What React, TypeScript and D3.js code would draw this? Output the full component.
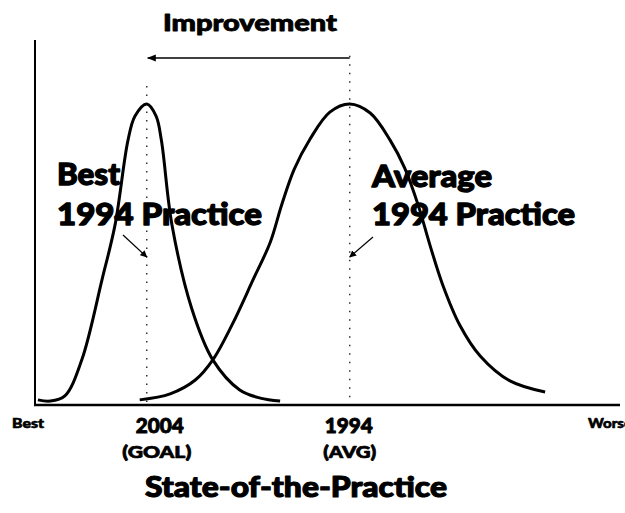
import React from "react";
import * as d3 from "d3";

// Horizontal scale: 0 = "Best" end, 100 = "Worse" end. Vertical: relative frequency (peak ≈ 1).
const bestCurveX = [0.5, 2.6, 5.1, 8.0, 11.5, 13.7, 15.9, 17.1, 19.1, 20.7, 21.6, 23.4, 26.8, 30.4, 35.0, 38.5, 41.9];
const bestCurveY = [0.017, 0.013, 0.03, 0.15, 0.42, 0.6, 0.88, 0.96, 1.0, 0.96, 0.88, 0.6, 0.32, 0.15, 0.05, 0.023, 0.013];

const avgCurveX = [17.9, 23.1, 27.4, 30.4, 33.7, 37.3, 40.2, 42.2, 44.3, 47.0, 50.4, 53.8, 57.3, 60.7, 63.2, 65.5, 67.5, 69.7, 72.6, 76.1, 81.2, 87.2];
const avgCurveY = [0.017, 0.037, 0.083, 0.15, 0.267, 0.417, 0.54, 0.667, 0.783, 0.883, 0.973, 1.0, 0.97, 0.88, 0.787, 0.664, 0.532, 0.399, 0.266, 0.163, 0.08, 0.043];

const markerPositions = [19.1, 53.8]; // 2004 goal, 1994 average
const markerTopValues = [1.06, 1.16];
const tickLabels = ["2004", "1994"];
const tickSubLabels = ["(GOAL)", "(AVG)"];
const axisEndLabels = ["Best", "Worse"];

const W = 625;
const H = 513;
const FONT = "Lato, 'Open Sans', 'DejaVu Sans', sans-serif";

export default function App() {
  const x = d3.scaleLinear().domain([0, 100]).range([35, 620]);
  const y = d3.scaleLinear().domain([0, 1]).range([405, 104]);

  const line = d3
    .line<[number, number]>()
    .x((d) => x(d[0]))
    .y((d) => y(d[1]))
    .curve(d3.curveCatmullRom.alpha(0.5));

  const bestPts = bestCurveX.map((v, i) => [v, bestCurveY[i]] as [number, number]);
  const avgPts = avgCurveX.map((v, i) => [v, avgCurveY[i]] as [number, number]);

  const gx = x(markerPositions[0]);
  const ax = x(markerPositions[1]);

  const heavy = (sw: number) => ({ stroke: "#000", strokeWidth: sw, strokeLinejoin: "round" as const });

  return (
    <svg
      width={W}
      height={H}
      style={{ position: "absolute", left: 0, top: 0, background: "#fff" }}
      fontFamily={FONT}
    >
      <defs>
        <marker id="ah" viewBox="0 0 10 10" refX="9" refY="5" markerWidth="7" markerHeight="7" orient="auto-start-reverse" markerUnits="userSpaceOnUse">
          <path d="M0,0 L10,5 L0,10 z" fill="#000" />
        </marker>
        <marker id="ahs" viewBox="0 0 10 10" refX="9" refY="5" markerWidth="9" markerHeight="9" orient="auto" markerUnits="userSpaceOnUse">
          <path d="M0,1 L10,5 L0,9 z" fill="#000" />
        </marker>
      </defs>
      <rect width={W} height={H} fill="#fff" />

      {/* Improvement title and arrow */}
      <text x={250} y={31} fontSize={22} fontWeight={900} textAnchor="middle" textLength={174} lengthAdjust="spacingAndGlyphs" {...heavy(0.8)}>
        Improvement
      </text>
      <line x1={ax} y1={58} x2={gx + 1} y2={58} stroke="#000" strokeWidth={1.5} markerEnd="url(#ahs)" />

      {/* Dotted marker lines */}
      {markerPositions.map((m, i) => (
        <line
          key={i}
          x1={x(m)}
          x2={x(m)}
          y1={y(markerTopValues[i])}
          y2={y(0)}
          stroke="#333"
          strokeWidth={1.5}
          strokeDasharray="1.5,7"
        />
      ))}

      {/* Axes */}
      <line x1={x(0)} x2={x(0)} y1={40} y2={y(0)} stroke="#000" strokeWidth={2} />
      <line x1={x(0) - 1} x2={x(100)} y1={y(0)} y2={y(0)} stroke="#000" strokeWidth={2.5} />

      {/* Curves */}
      <path d={line(bestPts) || ""} fill="none" stroke="#000" strokeWidth={3} />
      <path d={line(avgPts) || ""} fill="none" stroke="#000" strokeWidth={3} />

      {/* Labels in plot */}
      <g fontSize={31} fontWeight={900} {...heavy(1.3)}>
        <text x={57} y={185} textLength={63} lengthAdjust="spacingAndGlyphs">Best</text>
        <text x={57} y={225} textLength={205} lengthAdjust="spacingAndGlyphs">1994 Practice</text>
        <text x={372} y={187} textLength={120} lengthAdjust="spacingAndGlyphs">Average</text>
        <text x={372} y={225} textLength={203} lengthAdjust="spacingAndGlyphs">1994 Practice</text>
      </g>

      {/* Small pointer arrows */}
      <line x1={123} y1={235} x2={gx} y2={257} stroke="#000" strokeWidth={1.2} markerEnd="url(#ah)" />
      <line x1={373} y1={237} x2={ax} y2={257} stroke="#000" strokeWidth={1.2} markerEnd="url(#ah)" />

      {/* Axis labels */}
      <text x={12} y={428} fontSize={13} fontWeight={900} textLength={32} lengthAdjust="spacingAndGlyphs" {...heavy(0.6)}>{axisEndLabels[0]}</text>
      <text x={588} y={428} fontSize={13} fontWeight={900} textLength={44} lengthAdjust="spacingAndGlyphs" {...heavy(0.6)}>{axisEndLabels[1]}</text>

      {markerPositions.map((m, i) => (
        <g key={"t" + i} fontWeight={900} {...heavy(0.9)}>
          <text x={x(m) + (i === 0 ? 13 : -1)} y={433} fontSize={20} textAnchor="middle" textLength={48} lengthAdjust="spacingAndGlyphs">
            {tickLabels[i]}
          </text>
          <text x={x(m) + (i === 0 ? 10 : 0)} y={458} fontSize={16} textAnchor="middle" textLength={i === 0 ? 69 : 53} lengthAdjust="spacingAndGlyphs" strokeWidth={0.7}>
            {tickSubLabels[i]}
          </text>
        </g>
      ))}

      <text x={296} y={497} fontSize={28} fontWeight={900} textAnchor="middle" textLength={302} lengthAdjust="spacingAndGlyphs" {...heavy(1.1)}>
        State-of-the-Practice
      </text>
    </svg>
  );
}
